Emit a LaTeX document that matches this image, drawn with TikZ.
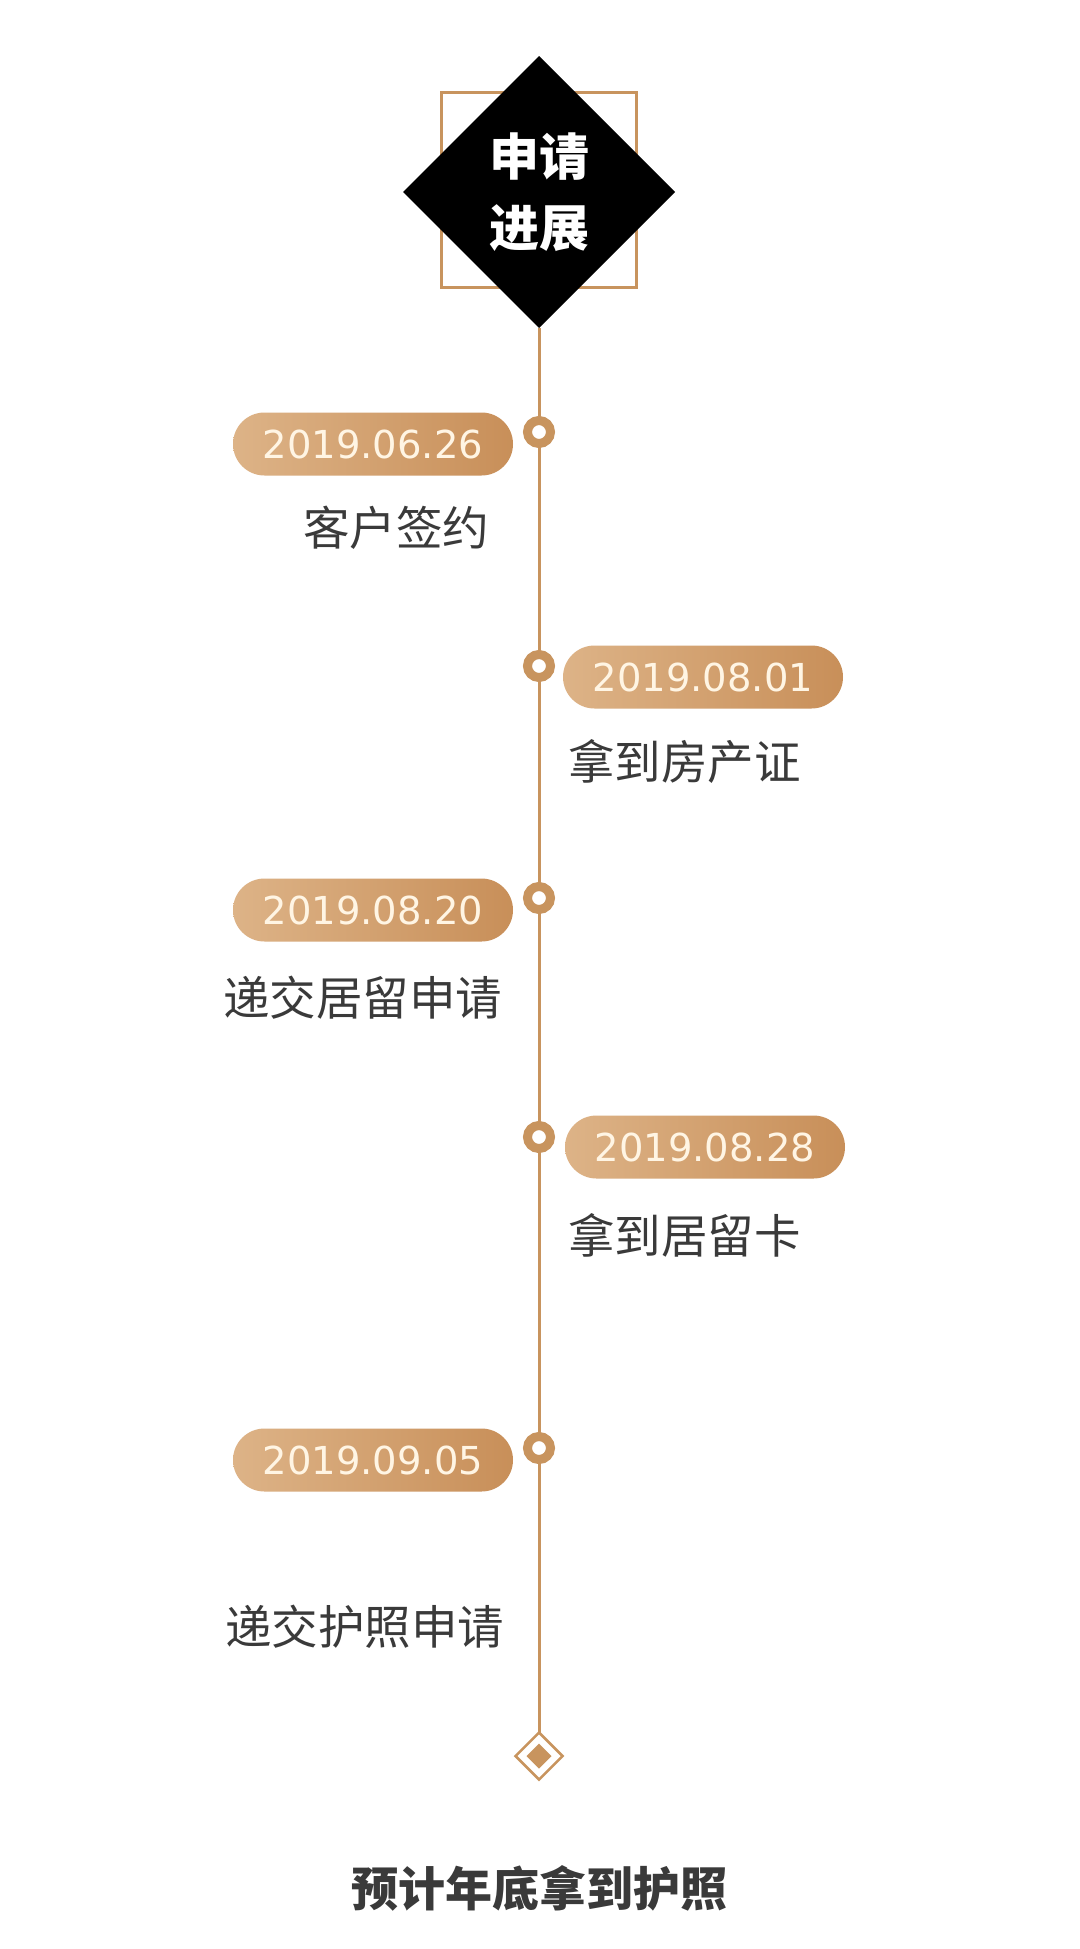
\documentclass[tikz,border=0pt]{standalone}
\usepackage{fontspec}
\usetikzlibrary{shapes.geometric}
\newfontfamily\cjk{Noto Sans CJK SC}
\newfontfamily\datefont{DejaVu Sans}
\definecolor{bronze}{HTML}{C8945E}
\definecolor{sandlight}{HTML}{DDB387}
\definecolor{sanddark}{HTML}{C88F59}
\definecolor{cream}{HTML}{FFF5E4}
\definecolor{ink}{HTML}{3A3A3A}

\begin{document}
\begin{tikzpicture}[x=1pt, y=-1pt,
    every node/.style={inner sep=0pt, outer sep=0pt},
    ring/.style={circle, fill=white, draw=bronze, line width=9pt, minimum size=23pt},
    datepill/.style={rounded corners=31.5pt, minimum width=280pt, minimum height=63pt,
      left color=sandlight, right color=sanddark, text=cream,
      font=\datefont\fontsize{38.5}{40}\selectfont},
    stepname/.style={text=ink, font=\cjk\fontsize{46.5}{50}\selectfont}]
      \fill[white] (0,0) rectangle (1079,1949);
      \useasboundingbox (0,0) rectangle (1079,1949);
      % header
      \node[draw=bronze, line width=3pt, minimum size=195pt] (frame) at (539,190) {};
      \node[diamond, fill=black, minimum width=272pt, minimum height=272pt, text=white,
        align=center, font=\cjk\bfseries\fontsize{50}{71}\selectfont] (head) at (539,192) {申请\\进展};
      % end mark
      \node[diamond, draw=bronze, fill=white, line width=2.5pt, minimum width=47pt,
        minimum height=47pt] (tail) at (539,1756) {};
      \node[diamond, fill=bronze, minimum width=25pt, minimum height=25pt] (tailcore) at (tail) {};
      \draw[bronze, line width=3pt] (head.south) -- (tail.north);
      % steps
      \node[ring] (r1) at (539,432) {};
      \node[ring] (r2) at (539,666) {};
      \node[ring] (r3) at (539,898) {};
      \node[ring] (r4) at (539,1137) {};
      \node[ring] (r5) at (539,1448) {};
      \node[datepill] (p1) at (373,444) {2019.06.26};
      \node[datepill] (p2) at (703,677) {2019.08.01};
      \node[datepill] (p3) at (373,910) {2019.08.20};
      \node[datepill] (p4) at (705,1147) {2019.08.28};
      \node[datepill] (p5) at (373,1460) {2019.09.05};
      \node[stepname, anchor=east] (l1) at (489,528) {客户签约};
      \node[stepname, anchor=west] (l2) at (568,762) {拿到房产证};
      \node[stepname, anchor=east] (l3) at (502,998) {递交居留申请};
      \node[stepname, anchor=west] (l4) at (568,1235) {拿到居留卡};
      \node[stepname, anchor=east] (l5) at (504,1627) {递交护照申请};
      % goal
      \node[text=ink, font=\cjk\bfseries\fontsize{47}{50}\selectfont] (goal) at (539,1888) {预计年底拿到护照};
\end{tikzpicture}
\end{document}
